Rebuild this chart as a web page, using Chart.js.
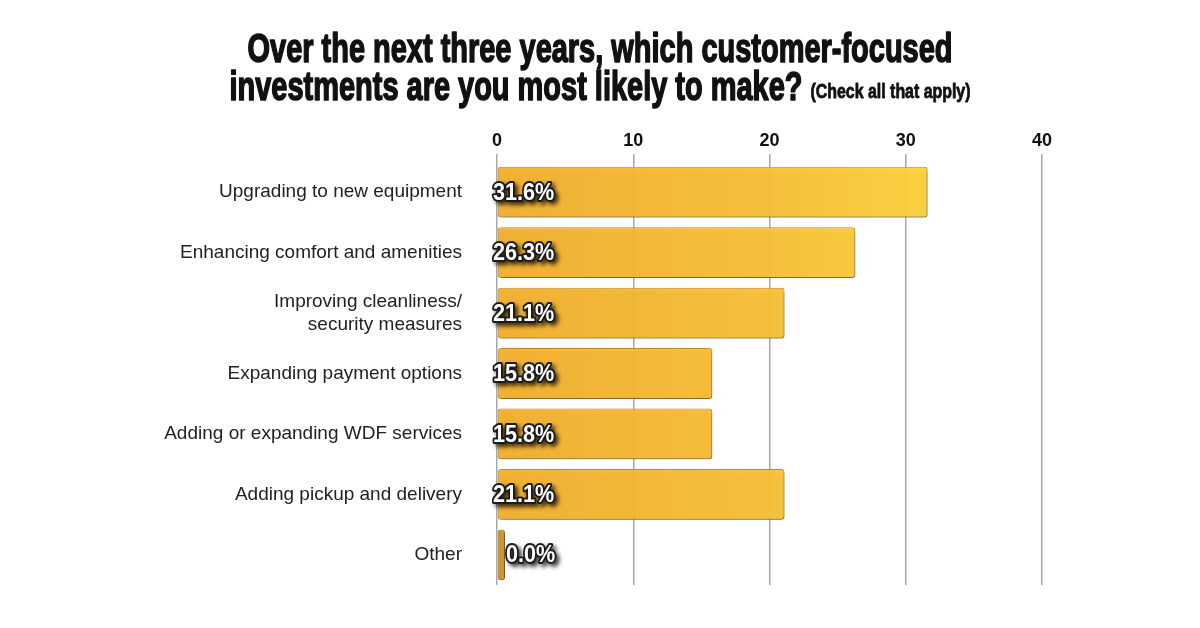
<!DOCTYPE html>
<html>
<head>
<meta charset="utf-8">
<script src="https://cdn.jsdelivr.net/npm/chart.js@4"></script>
<style>
  body { margin: 0; background: #fff; }
  #wrap { width: 1200px; height: 628px; position: relative; }
</style>
</head>
<body>
<div id="wrap"><canvas id="investChart"></canvas></div>
<script>
const categories = [
  'Upgrading to new equipment',
  'Enhancing comfort and amenities',
  ['Improving cleanliness/', 'security measures'],
  'Expanding payment options',
  'Adding or expanding WDF services',
  'Adding pickup and delivery',
  'Other'
];
const values = [31.6, 26.3, 21.1, 15.8, 15.8, 21.1, 0.0];
const xTicks = [0, 10, 20, 30, 40];

const titleLine1 = 'Over the next three years, which customer-focused';
const titleLine2 = 'investments are you most likely to make?';
const titleNote = '(Check all that apply)';

const SANS = '"Liberation Sans", Arial, Helvetica, sans-serif';

// bar fill: horizontal gold gradient
function barFill(context) {
  const chart = context.chart;
  const area = chart.chartArea;
  if (!area) return '#F7BA34';
  if (values[context.dataIndex] === 0) return '#C9962F';
  const g = chart.ctx.createLinearGradient(area.left, 0, area.left + 440, 0);
  g.addColorStop(0, 'rgba(245,176,44,0.94)');
  g.addColorStop(0.6, 'rgba(250,192,52,0.94)');
  g.addColorStop(1, 'rgba(255,212,60,0.94)');
  return g;
}

// draws text squeezed horizontally to mimic a condensed face
function narrowText(ctx, txt, x, y, sx, stroke) {
  ctx.save();
  ctx.translate(x, y);
  ctx.scale(sx, 1);
  if (stroke) ctx.strokeText(txt, 0, 0);
  ctx.fillText(txt, 0, 0);
  ctx.restore();
}

const titlePlugin = {
  id: 'titleDraw',
  afterDraw(chart) {
    const ctx = chart.ctx;
    ctx.save();
    ctx.fillStyle = '#111';
    ctx.strokeStyle = '#111';
    ctx.lineWidth = 1.6;
    ctx.lineJoin = 'round';
    ctx.textBaseline = 'alphabetic';
    ctx.font = 'bold 40px ' + SANS;
    const w1 = ctx.measureText(titleLine1).width;
    const sx = 705 / w1;
    narrowText(ctx, titleLine1, 600 - 705 / 2, 62, sx, true);
    const w2 = ctx.measureText(titleLine2).width * sx;
    ctx.font = 'bold 20px ' + SANS;
    const wn = ctx.measureText(titleNote).width;
    const sn = 160 / wn;
    const x0 = 600 - (w2 + 8 + 160) / 2;
    ctx.font = 'bold 40px ' + SANS;
    narrowText(ctx, titleLine2, x0, 100, sx, true);
    ctx.font = 'bold 20px ' + SANS;
    ctx.lineWidth = 0.8;
    narrowText(ctx, titleNote, x0 + w2 + 8, 98, sn, true);
    ctx.restore();
  }
};

const shadowPlugin = {
  id: 'barShadow',
  beforeDatasetsDraw(chart) {
    const ctx = chart.ctx;
    ctx.save();
    ctx.shadowColor = 'rgba(0,0,0,0.35)';
    ctx.shadowOffsetX = 2;
    ctx.shadowOffsetY = 3;
    ctx.shadowBlur = 4;
  },
  afterDatasetsDraw(chart) {
    chart.ctx.restore();
  }
};

const valueLabelPlugin = {
  id: 'valueLabels',
  afterDatasetsDraw(chart) {
    const ctx = chart.ctx;
    const meta = chart.getDatasetMeta(0);
    const zeroX = chart.scales.x.getPixelForValue(0);
    ctx.save();
    ctx.font = 'bold 24px ' + SANS;
    ctx.textBaseline = 'middle';
    ctx.textAlign = 'left';
    ctx.lineJoin = 'round';
    meta.data.forEach((bar, i) => {
      const txt = values[i].toFixed(1) + '%';
      const x = zeroX - 4 + (values[i] === 0 ? 13 : 0);
      const y = bar.y + 1;
      ctx.shadowColor = 'rgba(0,0,0,0.75)';
      ctx.shadowOffsetX = 3;
      ctx.shadowOffsetY = 3;
      ctx.shadowBlur = 4;
      ctx.strokeStyle = '#1b1b1b';
      ctx.lineWidth = 4;
      ctx.fillStyle = '#ffffff';
      ctx.save();
      ctx.translate(x, y);
      ctx.scale(0.9, 1);
      ctx.strokeText(txt, 0, 0);
      ctx.shadowColor = 'transparent';
      ctx.fillText(txt, 0, 0);
      ctx.restore();
    });
    ctx.restore();
  }
};

const chart = new Chart(document.getElementById('investChart'), {
  type: 'bar',
  data: {
    labels: categories,
    datasets: [{
      data: values,
      backgroundColor: barFill,
      borderColor: (c) => values[c.dataIndex] === 0 ? '#A87A22' : '#C48E22',
      borderWidth: 1,
      borderRadius: 3,
      borderSkipped: false,
      barPercentage: 0.84,
      categoryPercentage: 1,
      minBarLength: 8
    }]
  },
  options: {
    indexAxis: 'y',
    responsive: true,
    maintainAspectRatio: false,
    animation: false,
    layout: { padding: { left: 0, right: 158, top: 120, bottom: 43 } },
    plugins: {
      legend: { display: false },
      tooltip: { enabled: false }
    },
    scales: {
      x: {
        position: 'top',
        min: 0,
        max: 40,
        afterBuildTicks: (s) => { s.ticks = xTicks.map(v => ({ value: v })); },
        afterFit: (s) => { s.height = 42; },
        ticks: {
          padding: 2,
          color: '#111',
          font: { family: SANS, weight: 'bold', size: 18 }
        },
        grid: {
          color: '#a8a8a8',
          lineWidth: 1.5,
          tickLength: 8,
          drawTicks: true
        },
        border: { display: false }
      },
      y: {
        afterFit: (s) => { s.width = 497; },
        ticks: {
          padding: 27,
          color: '#222',
          font: { family: SANS, size: 19 }
        },
        grid: { display: false },
        border: { display: false }
      }
    }
  },
  plugins: [titlePlugin, shadowPlugin, valueLabelPlugin]
});
</script>
</body>
</html>
